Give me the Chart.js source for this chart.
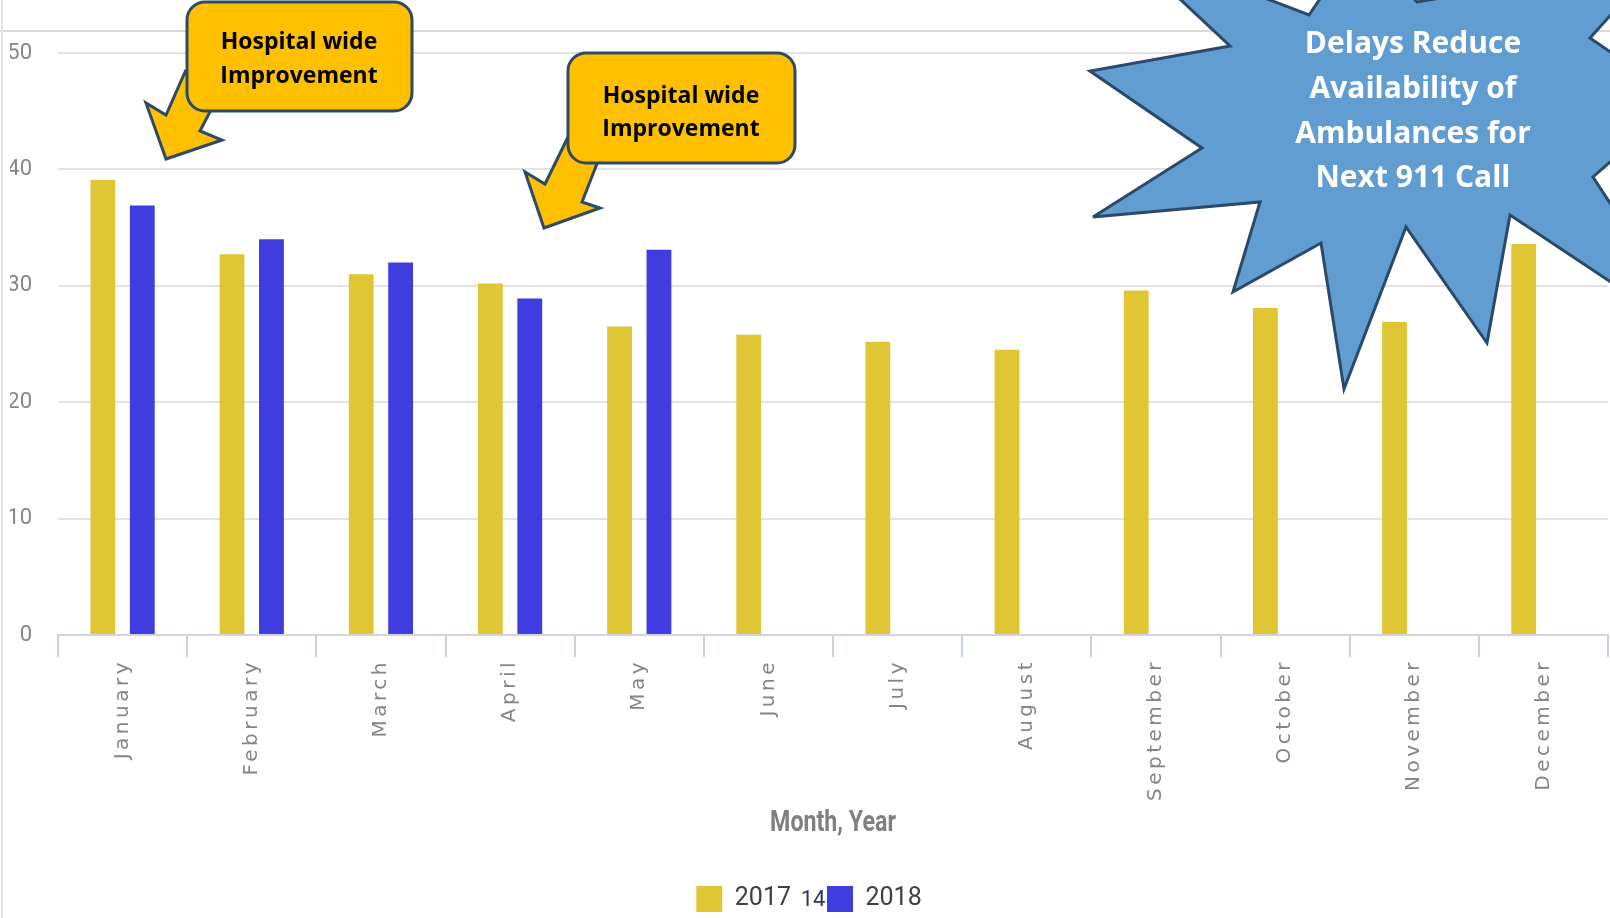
<!DOCTYPE html>
<html>
<head>
<meta charset="utf-8">
<title>Delays by month, 2017 vs 2018</title>
<script src="https://cdn.jsdelivr.net/npm/chart.js@4.4.1/dist/chart.umd.min.js"></script>
<style>
  html, body { margin: 0; padding: 0; background: #fff; }
  #wrap { position: relative; width: 1610px; height: 918px; overflow: hidden; }
  #chart { position: absolute; left: 0; top: 0; }
  #notes { position: absolute; left: 0; top: 0; }
</style>
</head>
<body>
<div id="wrap">
  <canvas id="chart" width="1610" height="918"></canvas>
  <svg id="notes" width="1610" height="918" xmlns="http://www.w3.org/2000/svg">
    <!-- frame of the slide -->
    <line x1="0" y1="31" x2="1610" y2="31" stroke="#d9d9d9" stroke-width="2"/>
    <line x1="2" y1="0" x2="2" y2="918" stroke="#e4e4e4" stroke-width="2"/>

    <!-- callouts -->
    <g stroke="#2e4a66" stroke-width="3" stroke-linejoin="miter" fill="#ffc000">
      <polygon points="185,72 166,115 146,103 166,159 222,140 200,131 212,108"/>
      <rect x="187" y="2" width="225" height="109" rx="18"/>
      <polygon points="570,133 545,184 525,172 544,228 600,208 582,202 598,161"/>
      <rect x="568" y="53" width="227" height="110" rx="18"/>
    </g>
    <g font-family="'Open Sans', Lato, sans-serif" font-weight="700" font-size="23" text-anchor="middle" fill="#000">
      <text x="299" y="49">Hospital wide</text>
      <text x="299" y="83">Improvement</text>
      <text x="681" y="103">Hospital wide</text>
      <text x="681" y="136">Improvement</text>
    </g>

    <!-- starburst -->
    <polygon fill="#619dd1" stroke="#2b4a69" stroke-width="3" stroke-linejoin="miter"
      points="1119,-58 1230,46 1090,71 1202,148 1093,217 1260,202 1233,292 1321,243 1344,389 1406,227 1487,343 1510,215 1701,342 1593,177 1680,100 1590,38 1660,-40 1417,2 1360,-60 1309,15"/>
    <g font-family="'Open Sans', Lato, sans-serif" font-weight="700" font-size="30" text-anchor="middle" fill="#fff">
      <text x="1413" y="53">Delays Reduce</text>
      <text x="1413" y="98">Availability of</text>
      <text x="1413" y="143">Ambulances for</text>
      <text x="1413" y="187">Next 911 Call</text>
    </g>

    <!-- slide number -->
    <text x="813" y="906" font-family="Roboto, sans-serif" font-size="22" text-anchor="middle" fill="#2a3560">14</text>
  </svg>
</div>
<script>
const months = ['January', 'February', 'March', 'April', 'May', 'June',
    'July', 'August', 'September', 'October', 'November', 'December'];
const yearLabels = ['2017', '2018'];
const values2017 = [39.1, 32.7, 31.0, 30.2, 26.5, 25.8, 25.2, 24.5, 29.6, 28.1, 26.9, 33.6];
const values2018 = [36.9, 34.0, 32.0, 28.9, 33.1, null, null, null, null, null, null, null];
const yTicks = [0, 10, 20, 30, 40, 50];
const barColors = ['#e0c535', '#3f3ce0'];

// category axis: letter-spaced month labels and a narrowed axis title
class SpacedCategoryScale extends Chart.CategoryScale {
    static id = 'spacedCategory';
    drawLabels(chartArea) {
        const ctx = this.ctx;
        ctx.save();
        ctx.letterSpacing = '3.5px';
        super.drawLabels(chartArea);
        ctx.restore();
    }
    drawTitle() {
        const ctx = this.ctx;
        const cx = (this.left + this.right) / 2;
        ctx.save();
        ctx.translate(cx, 0);
        ctx.scale(0.8, 1);
        ctx.translate(-cx, 0);
        super.drawTitle();
        ctx.restore();
    }
}
Chart.register(SpacedCategoryScale);

new Chart(document.getElementById('chart'), {
    type: 'bar',
    data: {
        labels: months,
        datasets: [
            { label: yearLabels[0], data: values2017, backgroundColor: barColors[0] },
            { label: yearLabels[1], data: values2018, backgroundColor: barColors[1] }
        ]
    },
    options: {
        responsive: false,
        animation: false,
        categoryPercentage: 0.61,
        barPercentage: 0.63,
        layout: { padding: { left: 10, right: 2, top: 53, bottom: -4 } },
        scales: {
            x: {
                type: 'spacedCategory',
                offset: true,
                grid: {
                    offset: true,
                    drawOnChartArea: false,
                    drawTicks: true,
                    tickLength: 22,
                    color: '#c9d4e1',
                    lineWidth: 2
                },
                border: { display: true, color: '#cdd6e2', width: 2 },
                ticks: {
                    minRotation: 90,
                    maxRotation: 90,
                    autoSkip: false,
                    padding: 2,
                    color: '#858585',
                    font: { family: "'DejaVu Sans', sans-serif", size: 20 }
                },
                title: {
                    display: true,
                    text: 'Month, Year',
                    color: '#7f7f7f',
                    font: { family: 'Roboto, sans-serif', size: 29, weight: 'bold' },
                    padding: { top: 0, bottom: 9 }
                },
                afterFit: (scale) => { scale.height = 215; }
            },
            y: {
                min: yTicks[0],
                max: yTicks[yTicks.length - 1],
                afterBuildTicks: (scale) => {
                    scale.ticks = yTicks.map(v => ({ value: v }));
                },
                grid: { color: '#e2e2e2', lineWidth: 2, drawTicks: false },
                border: { display: false },
                ticks: {
                    padding: 26,
                    color: '#868686',
                    font: { family: 'Roboto, sans-serif', size: 22 }
                },
                afterFit: (scale) => { scale.width = 48; }
            }
        },
        plugins: {
            legend: {
                position: 'bottom',
                labels: {
                    boxWidth: 26,
                    boxHeight: 26,
                    padding: 36,
                    color: '#404040',
                    font: { family: 'Roboto, sans-serif', size: 25 }
                }
            },
            tooltip: { enabled: false }
        }
    }
});
</script>
</body>
</html>
